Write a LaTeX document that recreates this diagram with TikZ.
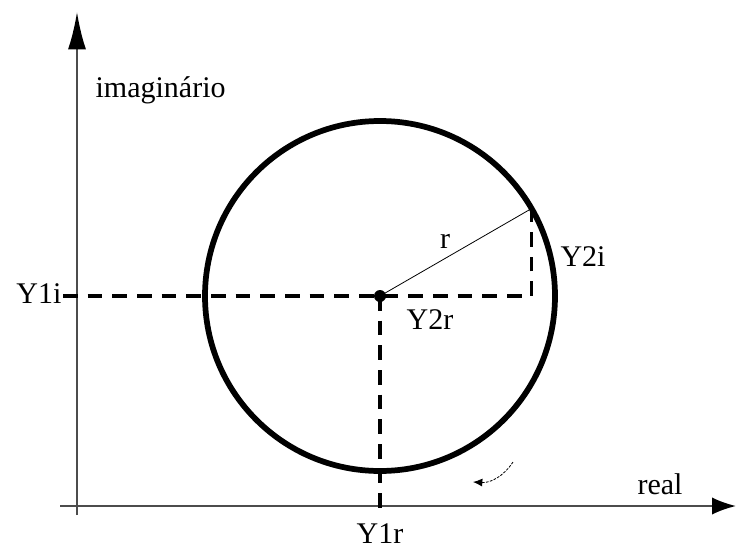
\documentclass[tikz,border=0pt]{standalone}
\usepackage{fontspec}
\setmainfont{Liberation Serif}
\usetikzlibrary{arrows.meta}

\begin{document}
\begin{tikzpicture}[x=0.75pt, y=-0.75pt,
    axis/.style={line width=1.5pt, draw=black!70},
    guide/.style={line width=2.8pt, dash pattern=on 11pt off 7.5pt},
    lbl/.style={font=\fontsize{22.5}{26}\selectfont, inner sep=1pt}]
    \useasboundingbox (0, 0) rectangle (736, 550);

    % axes
    \coordinate (ybot) at (77, 515);
    \coordinate (ytop) at (77, 12);
    \coordinate (xleft) at (60, 506);
    \coordinate (xright) at (736, 506);
    \draw[axis, -{Latex[length=28pt, width=13.5pt, color=black]}] (ybot) -- (ytop);
    \draw[axis, -{Latex[length=18pt, width=13pt, color=black]}] (xleft) -- (xright);

    \node[lbl, anchor=west] at (94, 90) (imag) {imaginário};
    \node[lbl] at (660, 484) (real) {real};

    % circle
    \node[circle, fill=black, inner sep=0pt, minimum size=9pt] at (380, 296) (c) {};
    \draw[line width=4.3pt] (c.center) circle (175);
    \coordinate (p) at (531.6, 208.5);
    \coordinate (q) at (531.6, 296);
    \coordinate (foot) at (380, 512);

    \draw[line width=0.6pt] (c.center) -- node[lbl, above=6pt, pos=0.43] (rlab) {r} (p);

    \node[lbl, anchor=east] at (63, 294) (y1i) {Y1i};
    \node[lbl] at (380, 534) (y1r) {Y1r};
    \node[lbl] at (430, 320) (y2r) {Y2r};
    \node[lbl] at (583, 257) (y2i) {Y2i};

    \draw[guide] (y1i.east |- c.center) -- (q) -- (p);
    \draw[guide] (c.center) -- (foot);

    % direction of rotation
    \coordinate (s0) at (513, 462);
    \coordinate (s1) at (473, 482);
    \draw[line width=0.6pt, dash pattern=on 2pt off 1pt, -{Latex[length=7pt, width=6pt]}] (s0) to[bend left=30] (s1);
\end{tikzpicture}
\end{document}
